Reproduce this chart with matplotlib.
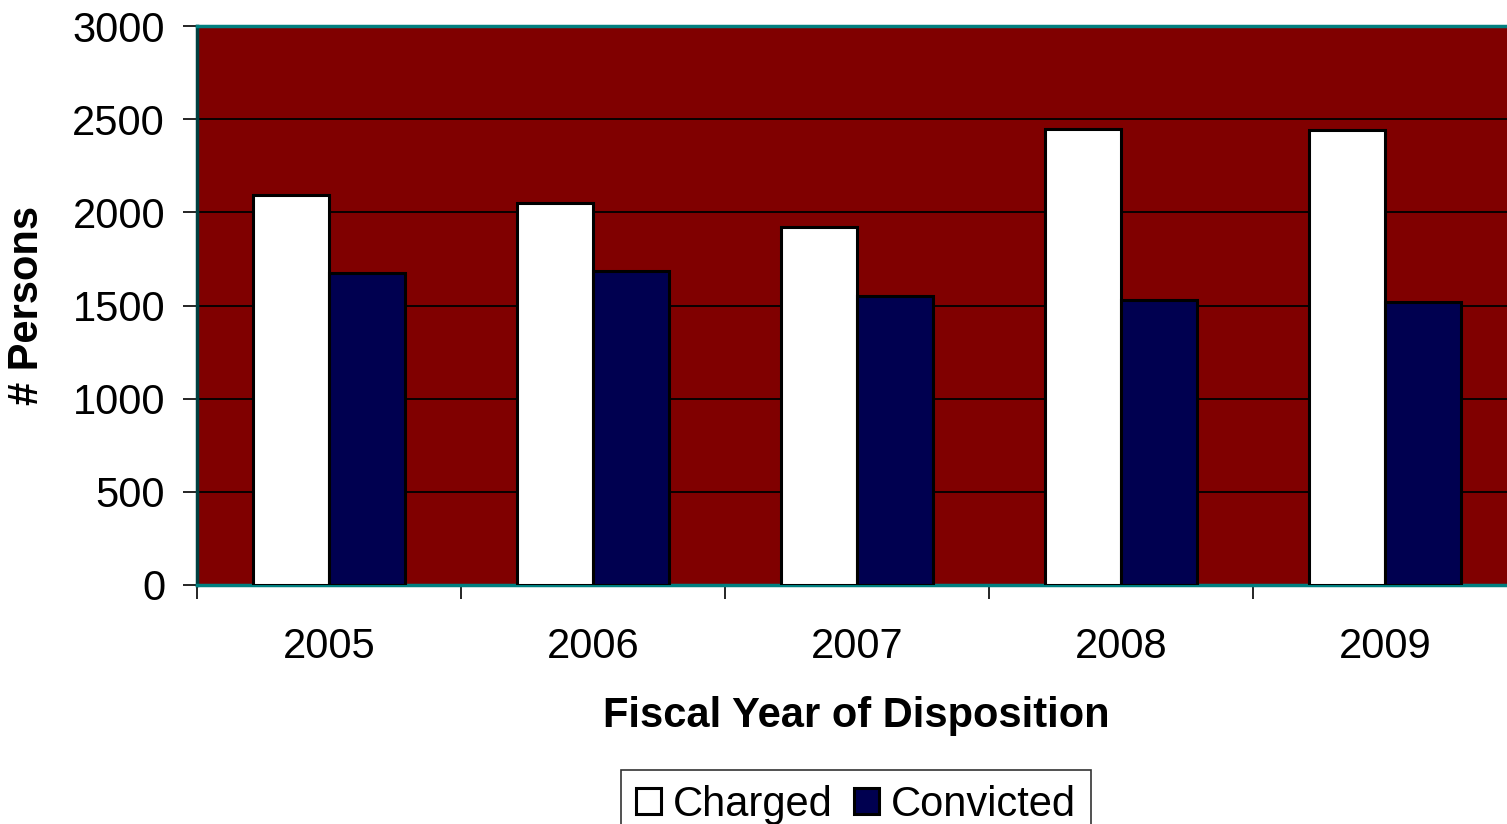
import numpy as np
import matplotlib
matplotlib.use("Agg")
import matplotlib.pyplot as plt

plt.rcParams['font.family'] = ['Liberation Sans', 'DejaVu Sans']

# data
years = ['2005', '2006', '2007', '2008', '2009']
charged = [2093, 2050, 1921, 2447, 2442]
convicted = [1675, 1685, 1551, 1530, 1519]

fig = plt.figure(figsize=(15.07, 8.24), dpi=100)
ax = fig.add_axes([197 / 1507, 1 - 585 / 824, 1320 / 1507, 559 / 824])
ax.set_facecolor('#800000')

x = np.arange(len(years))
w = 0.286
ax.bar(x - w / 2, charged, w, color='white', edgecolor='black', linewidth=2.2,
       label='Charged', zorder=3)
ax.bar(x + w / 2, convicted, w, color='#000050', edgecolor='black', linewidth=2.2,
       label='Convicted', zorder=3)

ax.set_xlim(-0.5, len(years) - 0.5)
ax.set_ylim(0, 3000)
ax.set_yticks(np.arange(0, 3001, 500))
ax.yaxis.grid(True, color='black', linewidth=1.3, zorder=1)
ax.set_axisbelow(True)

# category boundaries carry the x ticks, labels sit at the centres
ax.set_xticks(np.arange(len(years) + 1) - 0.5)
ax.set_xticklabels([])
ax.set_xticks(x, minor=True)
ax.set_xticklabels(years, minor=True)
ax.tick_params(axis='x', which='minor', length=0, pad=30, labelsize=30)
ax.tick_params(axis='x', which='major', length=10, width=1.2, direction='out')
ax.tick_params(axis='y', length=10, width=1.2, labelsize=30, pad=13)

for side in ['top', 'bottom']:
    ax.spines[side].set_color('#008080')
    ax.spines[side].set_linewidth(2.5)
ax.spines['left'].set_color('#004040')
ax.spines['left'].set_linewidth(2.5)
ax.spines['right'].set_visible(False)

ax.set_ylabel('# Persons', fontsize=30, fontweight='bold')
ax.yaxis.set_label_coords((47 - 197) / 1320, 0.5)
ax.set_xlabel('Fiscal Year of Disposition', fontsize=30, fontweight='bold')
ax.xaxis.set_label_coords((856 - 197) / 1320, -(696 - 585) / 559)

leg = fig.legend(loc='upper center', bbox_to_anchor=(856 / 1507, 1 - 770 / 824), ncol=2,
                 fontsize=30, frameon=True, fancybox=False, handlelength=0.6,
                 handleheight=0.6, handletextpad=0.3, columnspacing=0.5,
                 borderpad=0.35, borderaxespad=0)
leg.get_frame().set_edgecolor('black')
leg.get_frame().set_linewidth(1.2)

fig.savefig('out.png', dpi=100)
